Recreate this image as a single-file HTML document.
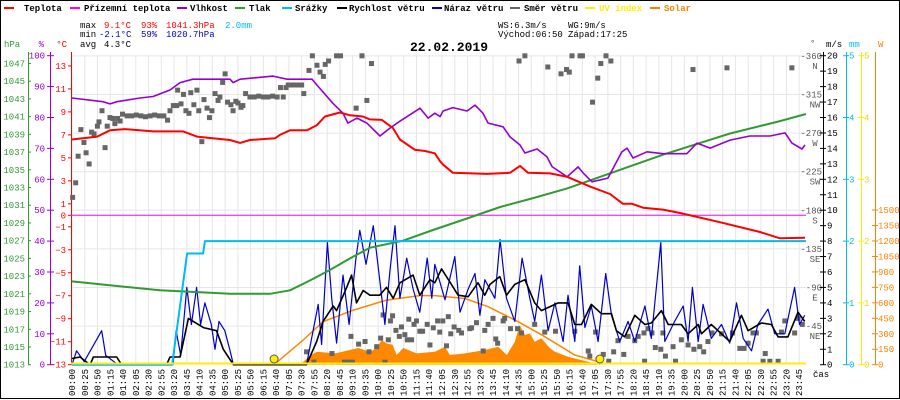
<!DOCTYPE html>
<html><head><meta charset="utf-8">
<style>
html,body{margin:0;padding:0;background:#fff;}
svg{display:block;font-family:"Liberation Mono","DejaVu Sans Mono",monospace;}
</style></head>
<body>
<svg id="chart" width="900" height="400" viewBox="0 0 900 400" xmlns="http://www.w3.org/2000/svg">
<rect x="0.5" y="0.5" width="899" height="398" fill="#fff" stroke="#000"/>
<g font-size="9" font-weight="bold">
<g><rect x="4" y="7" width="10" height="2" fill="#ff0000"/><text x="24" y="11">Teplota</text></g>
<g><rect x="70" y="7" width="10" height="2" fill="#ff00ff"/><text x="84" y="11">Přízemní teplota</text></g>
<g><rect x="177" y="7" width="10" height="2" fill="#9400d3"/><text x="190" y="11">Vlhkost</text></g>
<g><rect x="235" y="7" width="10" height="2" fill="#339933"/><text x="249" y="11">Tlak</text></g>
<g><rect x="282" y="7" width="10" height="2" fill="#00bbee"/><text x="295" y="11">Srážky</text></g>
<g><rect x="337" y="7" width="10" height="2" fill="#000"/><text x="349" y="11">Rychlost větru</text></g>
<g><rect x="432" y="7" width="10" height="2" fill="#0000cc"/><text x="444" y="11">Náraz větru</text></g>
<g><rect x="510" y="7" width="10" height="2" fill="#666"/><text x="524" y="11">Směr větru</text></g>
<g><rect x="585" y="7" width="10" height="2" fill="#ffee00"/><text x="599" y="11" fill="#ffee00">UV index</text></g>
<g><rect x="650" y="7" width="10" height="2" fill="#ff8000"/><text x="664" y="11" fill="#ff8000">Solar</text></g>
</g>
<g font-size="9">
<text x="80" y="28">max</text><text x="104" y="28" fill="#ff0000">9.1°C</text><text x="141" y="28" fill="#ff0000">93%</text><text x="166" y="28" fill="#ff0000">1041.3hPa</text><text x="225" y="28" fill="#00bbee">2.0mm</text>
<text x="80" y="37">min</text><text x="99" y="37" fill="#0000cc">-2.1°C</text><text x="141" y="37" fill="#0000cc">59%</text><text x="166" y="37" fill="#0000cc">1020.7hPa</text>
<text x="80" y="47">avg</text><text x="104" y="47">4.3°C</text>
<text x="498" y="28">WS:6.3m/s</text><text x="568" y="28">WG:9m/s</text>
<text x="498" y="37">Východ:06:50</text><text x="568" y="37">Západ:17:25</text>
</g>
<text x="449" y="51" font-size="13" font-weight="bold" text-anchor="middle">22.02.2019</text>
<g id="grid"></g>
<g id="axes"></g>
<g id="series"></g>
</svg>
<script>
// ---- data (hours, value) ----
const tempH=[0,0.82,1.24,1.73,2.65,3.63,4.08,5.16,5.49,5.81,6.63,6.79,7.12,7.67,8.0,8.26,8.75,9.08,9.5,9.73,10.12,10.48,10.71,11.2,11.53,11.85,12.02,12.12,12.44,13.55,14.3,14.63,14.89,15.61,16.17,16.92,17.57,17.99,18.29,18.65,19.3,19.86,21.16,22.47,23.12,23.94];
const tempV=[6.6,6.85,7.4,7.5,7.3,7.3,6.85,6.55,6.3,6.55,6.7,7.0,7.4,7.4,7.85,8.6,8.95,8.7,8.6,8.35,8.3,7.6,6.6,5.7,5.6,5.4,4.7,4.4,3.7,3.6,3.7,4.3,3.7,3.65,3.35,2.5,1.85,1.0,1.0,0.66,0.5,0.2,-0.6,-1.45,-2.0,-1.95];
const humH=[0,1.01,1.24,1.47,2.22,2.65,3.2,3.53,3.95,5.16,5.26,5.49,6.56,7.02,7.84,8.0,8.52,8.85,9.01,9.31,9.63,10.06,10.39,10.71,11.37,11.63,11.85,12.02,12.12,12.44,12.9,13.16,13.42,13.59,14.08,14.3,14.63,14.79,15.19,15.51,15.68,16.17,16.53,16.69,16.98,17.5,17.96,18.13,18.32,18.78,19.3,20.08,20.41,20.84,21.49,22.14,22.8,23.29,23.51,23.84,23.94];
const humV=[86.3,85.1,84.4,85.1,86.3,86.8,88.9,91.3,92.4,92.4,91.3,92.4,93.4,92.4,92.4,90.5,84.6,81.4,78.2,79.8,78.2,74,76.6,78.8,83,79.8,81.4,80.3,82.1,83.2,82.1,84,81.4,78.2,77,73.8,71.1,68.5,69.8,67.3,64.1,60.8,64,62.1,59.2,60.4,68.9,70.1,66.9,68.9,68.3,68.3,71.7,70.1,72.7,74,74,75,71.7,69.8,71.1];
const presH=[0,2.87,5.16,6.47,7.12,7.77,8.43,9.08,9.73,10.81,11.79,12.9,13.98,15.06,16.17,17.24,19.3,21.49,23.12,23.97];
const presV=[1022.4,1021.4,1021,1021,1021.4,1022.5,1023.7,1025,1026.2,1027,1028.2,1029.5,1030.8,1031.8,1032.9,1034.2,1036.7,1039.1,1040.5,1041.3];
const rainH=[0,3.27,3.76,4.28,4.34,23.97];
const rainV=[0,0,1.8,1.8,2.0,2.0];
const windH=[0,0.26,0.59,0.7,1.24,1.46,1.62,3.09,3.2,3.53,3.8,4.29,4.72,4.94,5.27,7.66,7.99,8.2,8.53,8.64,8.97,9.13,9.29,9.51,9.73,10.05,10.27,10.49,10.71,11.14,11.36,11.69,11.85,12.07,12.39,12.61,12.94,13.26,13.48,13.65,13.97,14.19,14.46,14.79,15.11,15.33,15.88,16.2,16.42,16.64,16.96,17.29,17.62,17.78,18.05,18.38,18.71,18.92,19.25,19.47,19.68,19.9,20.12,20.45,20.56,20.88,21.21,21.48,21.86,22.08,22.51,22.84,23.06,23.38,23.71,23.93];
const windV=[0.4,0.5,0,0.5,0.5,0.5,0,0,0.5,0.5,3.0,2.4,2.2,1.0,0,0,1.5,2.8,3.8,3.5,5.0,5.8,4.0,4.8,4.5,4.5,5.0,4.3,5.3,5.8,4.5,5.5,5.3,6.2,5.2,4.5,4.4,5.3,4.5,5.2,5.7,4.5,5.2,5.5,4.0,3.5,4.0,4.0,2.6,2.6,3.9,3.3,3.3,2.2,1.8,3.2,2.6,2.7,3.5,2.6,2.6,2.6,2.0,2.6,2.0,2.6,2.0,1.5,3.2,2.2,2.7,2.6,1.8,1.8,3.4,2.8];
const gustH=[0,0.15,0.4,0.97,1.1,1.5,3.3,3.4,3.55,3.75,3.9,4.07,4.2,4.34,4.55,4.67,4.8,4.99,5.15,5.27,7.66,8.04,8.15,8.34,8.48,8.64,8.85,9.05,9.27,9.4,9.6,9.84,10.05,10.22,10.38,10.55,10.71,10.93,11.14,11.36,11.6,11.75,11.85,12.18,12.5,12.67,12.94,13.16,13.32,13.48,13.81,13.98,14.19,14.46,14.7,14.95,15.11,15.33,15.55,15.77,16.04,16.2,16.42,16.58,16.75,16.96,17.18,17.43,17.62,17.89,18.16,18.38,18.71,18.92,19.23,19.36,19.68,19.96,20.12,20.26,20.45,20.61,20.88,21.21,21.48,21.7,21.92,22.19,22.4,22.73,22.95,23.28,23.6,23.76,23.93];
const gustV=[0,0.9,0.2,2.2,0.6,0,0,2.2,0.6,5.0,2.6,5.0,2.6,4.0,2.6,1.0,2.8,2.2,1.0,0,0,3.9,1.3,7.9,4.3,1.4,5.8,2.6,6.8,8.7,6.5,9.0,5.5,2.6,6.0,9.0,4.3,6.9,4.9,3.4,6.9,4.3,6.5,4.2,7.0,3.4,4.9,5.9,3.2,5.5,4.3,8.1,4.3,2.8,6.9,4.3,2.8,5.8,2.2,4.0,1.5,4.5,1.5,6.4,2.4,3.8,1.5,5.9,3.2,1.5,2.8,1.5,3.8,1.7,7.9,1.5,2.8,3.8,1.5,5.0,1.5,3.9,1.7,2.6,1.4,4.0,1.7,0.9,2.6,3.6,2.0,2.0,5.0,2.6,3.2];
const dirH=[0.02,0.12,0.2,0.29,0.39,0.46,0.56,0.64,0.72,0.83,0.88,0.98,1.08,1.15,1.24,1.33,1.4,1.49,1.57,1.65,1.8,1.95,2.1,2.25,2.4,2.55,2.7,2.85,3.0,3.12,3.2,3.31,3.42,3.45,3.56,3.64,3.72,3.82,3.88,3.98,4.08,4.14,4.24,4.31,4.41,4.49,4.57,4.67,4.77,4.83,4.92,5.0,5.08,5.19,5.26,5.35,5.42,5.52,5.58,5.67,5.81,5.95,6.1,6.25,6.4,6.55,6.7,6.81,6.9,6.99,7.06,7.2,7.35,7.5,7.57,7.66,7.74,7.85,7.9,8.0,8.1,8.21,8.27,8.38,8.49,8.64,8.77,8.9,9.03,9.11,9.16,9.28,9.36,9.47,9.57,9.63,9.7,9.78,9.95,10.08,10.16,10.22,10.33,10.4,10.47,10.58,10.69,10.76,10.87,10.95,11.0,11.09,11.17,11.25,11.36,11.45,11.6,11.69,11.8,11.94,12.01,12.11,12.23,12.29,12.37,12.48,12.63,12.72,12.99,13.05,13.21,13.43,13.48,13.59,13.75,13.84,13.9,14.08,14.13,14.32,14.55,14.6,14.68,14.79,15.11,15.44,15.54,15.79,15.97,16.15,16.24,16.33,16.42,16.59,16.67,16.86,16.91,17.0,17.1,17.17,17.27,17.35,17.44,17.53,17.6,17.69,17.83,18.02,18.16,18.38,18.49,18.68,18.7,18.81,18.94,19.05,19.23,19.3,19.38,19.63,19.71,19.9,20.12,20.28,20.31,20.5,20.63,20.77,20.9,21.21,21.39,21.57,21.81,21.95,22.08,22.24,22.35,22.57,22.64,22.79,23.06,23.17,23.28,23.51,23.6,23.71,23.85];
const dirV=[195,212,243,274,259,247,234,271,269,278,283,296,253,278,288,287,281,287,284,292,290,290,291,290,289,290,291,290,290,285,296,302,302,320,304,315,296,293,317,303,320,296,260,309,299,288,296,316,308,312,329,339,306,303,296,307,305,300,302,316,312,312,313,312,312,313,312,323,312,323,326,326,326,326,316,15,343,360,3,349,341,336,350,354,13,360,360,3,3,33,3,299,24,360,27,308,15,351,21,31,58,3,29,51,57,40,33,44,35,29,53,29,47,51,39,39,47,23,43,51,38,51,22,56,36,44,40,37,42,43,49,16,40,47,54,30,25,51,54,42,42,354,37,360,47,38,347,39,339,344,341,360,39,360,360,16,10,306,38,334,351,12,360,4,354,15,28,12,33,28,33,37,4,42,37,20,18,37,10,21,4,29,23,344,18,21,15,27,37,36,346,37,19,19,25,37,37,4,13,4,4,38,51,346,37,54,47];
const solarH=[6.9,7.5,7.8,8.0,8.6,9.35,9.73,9.95,10.11,10.27,10.47,10.6,10.82,11.25,11.85,12.18,12.34,12.83,13.48,13.92,14.2,14.46,14.62,14.79,14.95,15.11,15.33,15.6,15.77,16.2,16.64,17.07,17.2];
const solarV=[0,15,94,126,110,162,126,162,240,207,194,94,162,110,126,175,94,110,143,175,94,223,385,288,304,223,256,162,126,78,45,13,0];
const theoH=[6.6,7.55,8.2,9.19,10.27,11.36,11.85,12.83,13.59,14.57,15.44,16.42,17.18,17.24];
const theoV=[0,240,417,530,627,670,670,642,563,417,272,94,30,0];
const sunH=[6.6,17.24];
const hpaTicks=[1013,1015,1017,1019,1021,1023,1025,1027,1029,1031,1033,1035,1037,1039,1041,1043,1045,1047];
const humTicks=[0,10,20,30,40,50,60,70,80,90,100];
const tempTicks=[13,11,9,7,5,3,1,0,-1,-3,-5,-7,-9,-11,-13];
const dirTicks=[45,90,135,180,225,270,315,360];
const dirNames=["NE","E","SE","S","SW","W","NW","N"];
const mmTicks=[0,1,2,3,4,5];
const wTicks=[0,150,300,450,600,750,900,1050,1200,1350,1500];

// ---- scales ----
const X=h=>72+h*30.62;
const yC=c=>215.3-c*11.49, yP=p=>364.7-p*3.09, yH=v=>364.7-(v-1013)*8.86;
const yV=v=>364.7-v*15.45, yD=d=>364.7-d*0.858, yMM=m=>364.7-m*61.8, yW=w=>364.7-w*0.1031;
const NS="http://www.w3.org/2000/svg";
function mk(tag,attrs,parent){const e=document.createElementNS(NS,tag);for(const k in attrs)e.setAttribute(k,attrs[k]);parent.appendChild(e);return e;}
const grid=document.getElementById('grid'),axes=document.getElementById('axes'),ser=document.getElementById('series');

for(let m=0;m<=1435;m+=25){const x=X(m/60);
 const l=mk('line',{x1:x,x2:x,y1:55,y2:364,stroke:'#e6e6e6'},grid);
 
 
 const hh=String(Math.floor(m/60)).padStart(2,'0'),mm=String(m%60).padStart(2,'0');
 const t=mk('text',{x:0,y:0,'font-size':9,transform:`translate(${x+3},396) rotate(-90)`},axes);
 t.textContent=hh+':'+mm;
 
 
}
for(let i=1;i<=8;i++){const y=364.7-i*38.6;
 const l=mk('line',{x1:71,x2:806,y1:y,y2:y,stroke:'#e6e6e6'},grid);
 
 
}
function label(x,y,txt,col,anchor,name){const t=mk('text',{x:x,y:y,fill:col,'font-size':9,'text-anchor':anchor},axes);t.textContent=txt;
 
 return t;}
function vline(x,col,name){const l=mk('line',{x1:x,x2:x,y1:52,y2:365,stroke:col},axes);
 
 }
function tick(x1,x2,y,col){mk('line',{x1:x1,x2:x2,y1:y,y2:y,stroke:col},axes);}
vline(28.5,'#339933','hpa-axis');vline(50.5,'#9400d3','humidity-axis');vline(71.5,'#ff0000','temp-axis');
label(4,47,'hPa','#339933','start','hpa-unit');label(44,47,'%','#9400d3','end','humidity-unit');label(67,47,'°C','#ff0000','end','temp-unit');
hpaTicks.forEach(v=>{tick(28,31,yH(v),'#339933');label(25,yH(v)+3,v,'#339933','end','hpa-tick-label');});
humTicks.forEach(v=>{tick(47,54,yP(v),'#9400d3');label(45,yP(v)+3,v,'#9400d3','end','humidity-tick-label');});
tempTicks.forEach(v=>{tick(68,72,yC(v),'#ff0000');label(66,yC(v)+3,v===0?'0':(v<0?'−'+(-v):v),'#ff0000','end','temp-tick-label');});
vline(823.5,'#000','wind-axis');vline(846.5,'#00bbee','rain-axis');vline(861.5,'#ffee00','uv-axis');vline(875.5,'#ff8000','solar-axis');
label(810,46,'°','#555','start','dir-unit');label(826,47,'m/s','#000','start','wind-unit');label(849,47,'mm','#00bbee','start','rain-unit');label(878,47,'W','#ff8000','start','solar-unit');
dirTicks.forEach((v,i)=>{label(822,yD(v)+3,'-'+v,'#555','end','dir-tick-label');label(815,yD(v)+13,dirNames[i],'#555','middle','dir-name-label');});
for(let v=0;v<=20;v++){tick(820,826,yV(v),'#000');label(827,yV(v)+3,v,'#000','start','wind-tick-label');}
mmTicks.forEach(v=>{tick(843,849,yMM(v),'#00bbee');label(849,yMM(v)+3,v,'#00bbee','start','rain-tick-label');
 tick(858,864,yMM(v),'#ffee00');label(864,yMM(v)+3,v,'#e6d800','start','uv-tick-label');});
wTicks.forEach(v=>{tick(872,878,yW(v),'#ff8000');label(878,yW(v)+3,v,'#ff8000','start','solar-tick-label');});
label(813,377,'čas','#000','start','x-axis-title');

function pts(H,V,fy){return H.map((h,i)=>X(h).toFixed(1)+','+fy(V[i]).toFixed(1)).join(' ');}
const sa=mk('polygon',{points:X(solarH[0])+',364.7 '+pts(solarH,solarV,yW)+' '+X(solarH[solarH.length-1])+',364.7',fill:'#ff8800'},ser);


const th=mk('polyline',{points:pts(theoH,theoV,yW),fill:'none',stroke:'#ff8800','stroke-width':1.5},ser);


dirH.forEach((h,i)=>{const r=mk('rect',{x:X(h)-2.5,y:yD(dirV[i])-2.5,width:5,height:5,fill:'#666'},ser);
 
 });
const mg=mk('line',{x1:71,x2:806,y1:yC(0),y2:yC(0),stroke:'#ff00ff'},ser);


const lines=[['gust-line',gustH,gustV,yV,'#0000cc',1.2],['wind-line',windH,windV,yV,'#000',1.6],['pressure-line',presH,presV,yH,'#339933',2],['rain-line',rainH,rainV,yMM,'#00bbee',2],['humidity-line',humH,humV,yP,'#9400d3',1.6],['temperature-line',tempH,tempV,yC,'#ff0000',2]];
lines.forEach(L=>{const p=mk('polyline',{points:pts(L[1],L[2],L[3]),fill:'none',stroke:L[4],'stroke-width':L[5],'stroke-linejoin':'round'},ser);
 
 });
const uv=mk('line',{x1:71,x2:806,y1:363.5,y2:363.5,stroke:'#ffee00','stroke-width':2},ser);


sunH.forEach(h=>{const c=mk('circle',{cx:X(h),cy:359,r:4,fill:'#ffee00',stroke:'#555'},ser);
 
 });
</script>
</body></html>
